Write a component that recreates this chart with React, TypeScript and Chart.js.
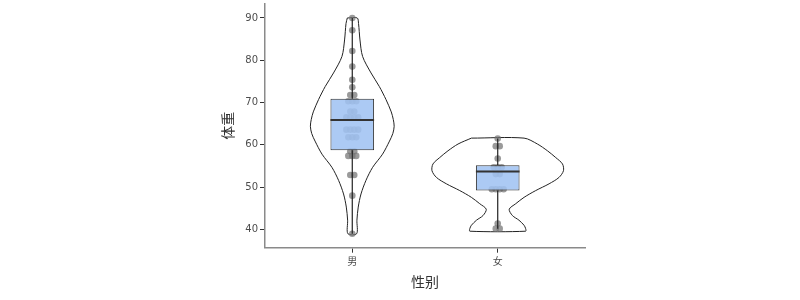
import React, { useEffect, useRef } from 'react';
import { Chart, registerables } from 'chart.js';
Chart.register(...registerables);

const categories = ['男', '女'];
const yTicks = [40, 50, 60, 70, 80, 90];

// violin outline: value levels (top→bottom) and half-widths (x units)
const maleViolinY = [90, 88.7, 84.8, 80.9, 77, 73.8, 70.7, 67.8, 66, 64.4, 62.7, 60.9, 57.8, 54.7, 51.6, 48.4, 45.3, 42.2, 39];
const maleViolinHalf = [0.034, 0.043, 0.053, 0.071, 0.129, 0.186, 0.232, 0.268, 0.282, 0.288, 0.279, 0.256, 0.208, 0.14, 0.094, 0.06, 0.041, 0.032, 0.03];
const femaleViolinY = [61.6, 60.2, 58.6, 57, 55.5, 53.9, 52.3, 50.8, 49.2, 47.6, 46.1, 44.8, 43.3, 42.2, 41, 40.2, 39.6];
const femaleViolinHalf = [0.181, 0.273, 0.342, 0.399, 0.445, 0.452, 0.421, 0.353, 0.261, 0.181, 0.124, 0.079, 0.101, 0.146, 0.181, 0.192, 0.192];

// individual observations
const maleWeights = [90, 87.1, 82.2, 78.5, 75.4, 73.6, 71.8, 71.8, 70.3, 70.3, 70.3, 67.9, 67.9, 66.5, 66.5, 66.5, 66.5, 63.6, 63.6, 63.6, 63.6, 61.8, 61.8, 61.8, 58.5, 58.5, 57.4, 57.4, 57.4, 52.9, 52.9, 48, 39];
const femaleWeights = [61.5, 59.7, 59.7, 56.8, 54.7, 54.7, 54.7, 53.1, 53.1, 49.5, 49.5, 49.5, 49.5, 41.4, 40.2, 40.2];

// box stats: min, q1, median, q3, max
const maleBox = [39, 58.75, 65.9, 70.9, 90];
const femaleBox = [40.2, 49.2, 53.7, 55.2, 61.5];

const boxHalf = 0.15;
const dotStep = 0.027;

function violinPath(c: number, ys: number[], ws: number[]) {
  const left = ys.map((y, i) => ({ x: c - ws[i], y }));
  const right = ys.map((y, i) => ({ x: c + ws[i], y })).reverse();
  return [...left, ...right, left[0]];
}

function dots(c: number, vals: number[]) {
  const counts: Record<string, number> = {};
  vals.forEach((v) => { counts[v] = (counts[v] || 0) + 1; });
  const seen: Record<string, number> = {};
  return vals.map((v) => {
    const n = counts[v];
    const i = seen[v] || 0;
    seen[v] = i + 1;
    return { x: c + (i - (n - 1) / 2) * dotStep, y: v };
  });
}

export default function App() {
  const ref = useRef<HTMLCanvasElement>(null);
  useEffect(() => {
    if (!ref.current) return;
    const outline = { borderColor: '#222', borderWidth: 1, pointRadius: 0, showLine: true, tension: 0.3, fill: false, order: 5 };
    const whisk = { borderColor: '#222', borderWidth: 1.2, pointRadius: 0, showLine: true, order: 2 };
    const boxes = [maleBox, femaleBox];
    const ds: any[] = [
      { ...outline, data: violinPath(1, maleViolinY, maleViolinHalf) },
      { ...outline, data: violinPath(2, femaleViolinY, femaleViolinHalf) },
      {
        data: [...dots(1, maleWeights), ...dots(2, femaleWeights)],
        pointRadius: 3.3, pointBackgroundColor: 'rgba(115,115,115,0.72)', pointBorderWidth: 0, showLine: false, order: 3,
      },
    ];
    boxes.forEach((b, k) => {
      const c = k + 1;
      ds.push({ ...whisk, data: [{ x: c, y: b[0] }, { x: c, y: b[1] }] });
      ds.push({ ...whisk, data: [{ x: c, y: b[3] }, { x: c, y: b[4] }] });
      ds.push({ borderColor: '#333', borderWidth: 2, pointRadius: 0, showLine: true, order: 0, data: [{ x: c - boxHalf, y: b[2] }, { x: c + boxHalf, y: b[2] }] });
    });
    ds.push({
      type: 'bar',
      data: boxes.map((b, k) => ({ x: k + 1, y: [b[1], b[3]] })),
      backgroundColor: 'rgba(160,195,242,0.88)',
      borderColor: '#333', borderWidth: 1, borderSkipped: false,
      barPercentage: 0.3, categoryPercentage: 1, order: 1,
    });
    const chart = new Chart(ref.current, {
      type: 'scatter',
      data: { datasets: ds },
      options: {
        animation: false,
        responsive: true,
        maintainAspectRatio: false,
        layout: { padding: { left: 219.6, right: 215, top: 1, bottom: 0 } },
        plugins: { legend: { display: false }, tooltip: { enabled: false } },
        scales: {
          x: {
            type: 'linear', min: 0.4, max: 2.6, offset: false,
            afterBuildTicks: (s: any) => { s.ticks = categories.map((_, i) => ({ value: i + 1 })); },
            afterFit: (s: any) => { s.height = 52.3; s.paddingLeft = 0; s.paddingRight = 0; },
            ticks: { callback: (v: any) => categories[Number(v) - 1] ?? '', color: '#4d4d4d', padding: 3, font: { size: 10, family: "'Noto Sans CJK SC', 'DejaVu Sans', sans-serif" } },
            grid: { display: true, offset: false, drawOnChartArea: false, drawTicks: true, tickLength: 5, color: '#333' },
            border: { display: true, color: '#8a8a8a', width: 1.5 },
            title: { display: true, text: '性别', color: '#333', padding: { top: 0, bottom: 10 }, font: { size: 14, family: "'Noto Sans CJK SC', sans-serif" } },
          },
          y: {
            type: 'linear', min: 35.7, max: 93.3,
            afterBuildTicks: (s: any) => { s.ticks = yTicks.map((v) => ({ value: v })); },
            afterFit: (s: any) => { s.width = 45.4; s.paddingTop = 0; s.paddingBottom = 0; },
            ticks: { color: '#4d4d4d', padding: 2, font: { size: 10, family: "'DejaVu Sans', sans-serif" } },
            grid: { display: true, drawOnChartArea: false, drawTicks: true, tickLength: 5, color: '#333' },
            border: { display: true, color: '#8a8a8a', width: 1.5 },
            title: { display: true, text: '体重', color: '#333', padding: 0, font: { size: 14, family: "'Noto Sans CJK SC', sans-serif" } },
          },
        },
      } as any,
    });
    return () => chart.destroy();
  }, []);
  return (
    <div style={{ position: 'absolute', left: 0, top: 0, width: 800, height: 300 }}>
      <canvas ref={ref} />
    </div>
  );
}
